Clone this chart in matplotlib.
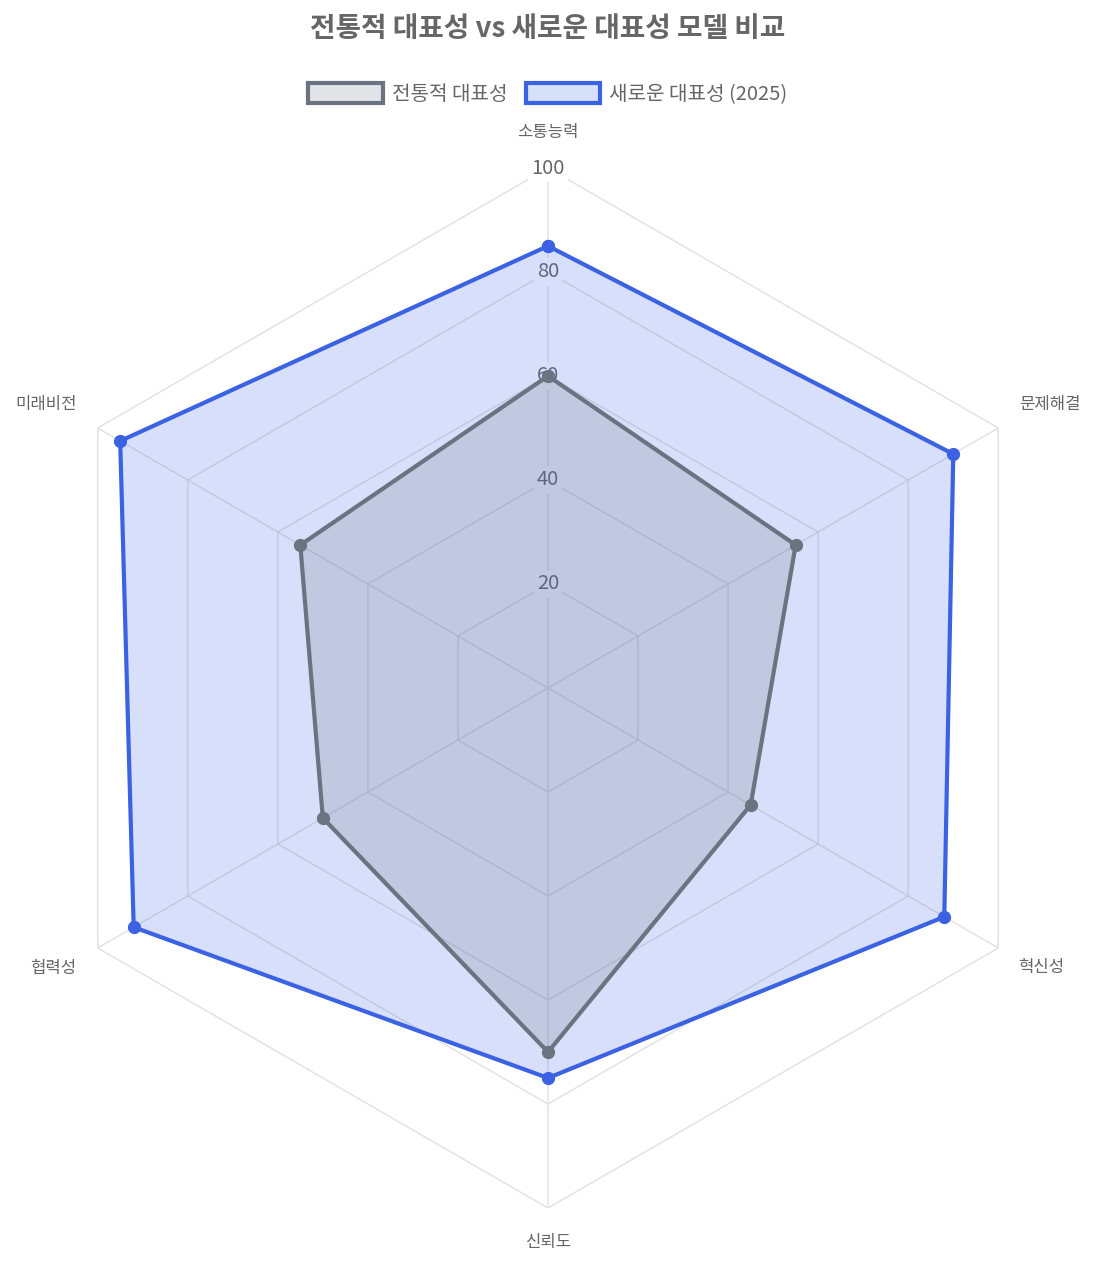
import numpy as np
import matplotlib
matplotlib.use("Agg")
import matplotlib.pyplot as plt
from matplotlib.patches import Patch

plt.rcParams['font.family'] = ['Noto Sans CJK KR', 'DejaVu Sans']

categories = ['소통능력', '문제해결', '혁신성', '신뢰도', '협력성', '미래비전']
traditional = [60, 55, 45, 70, 50, 55]
new_model = [85, 90, 88, 75, 92, 95]
series_names = ['전통적 대표성', '새로운 대표성 (2025)']
r_ticks = [20, 40, 60, 80, 100]
title = '전통적 대표성 vs 새로운 대표성 모델 비교'

W, H = 1104, 1262
fig = plt.figure(figsize=(W / 100, H / 100), dpi=100)
cx, cy, R = 548, 688, 520
ax = fig.add_axes([(cx - R) / W, (H - cy - R) / H, 2 * R / W, 2 * R / H], projection='polar')
ax.set_theta_offset(np.pi / 2)
ax.set_theta_direction(-1)
ax.set_ylim(0, 100)
ax.grid(False)
ax.spines['polar'].set_visible(False)
ax.set_xticks([])
ax.set_yticks([])
ax.patch.set_alpha(0)

n = len(categories)
theta = np.arange(n) * 2 * np.pi / n
theta_c = np.append(theta, theta[0])

grid_col = '#e3e3e3'
for t in r_ticks:
    ax.plot(theta_c, [t] * (n + 1), color=grid_col, lw=1.1, zorder=1)
for th in theta:
    ax.plot([th, th], [0, 100], color=grid_col, lw=1.1, zorder=1)

for t in r_ticks:
    ax.text(0, t, str(t), ha='center', va='center', fontsize=14.5, color='#666666',
            zorder=2, bbox=dict(boxstyle='square,pad=0.15', fc='white', ec='none'))

blue = '#3A62E2'
gray = '#6B7280'
blue_vals = np.append(new_model, new_model[0])
gray_vals = np.append(traditional, traditional[0])

ax.fill(theta_c, blue_vals, color=(59/255, 99/255, 230/255, 0.2), zorder=3, lw=0)
ax.plot(theta_c, blue_vals, color=blue, lw=3.0, zorder=4, marker='o', ms=8.5,
        solid_joinstyle='miter')
ax.fill(theta_c, gray_vals, color=(107/255, 114/255, 128/255, 0.2), zorder=5, lw=0)
ax.plot(theta_c, gray_vals, color=gray, lw=3.0, zorder=6, marker='o', ms=8.5,
        solid_joinstyle='miter')

offsets = [(0, 35, 'center'), (21, 23, 'left'), (20, -20, 'left'),
           (0, -35, 'center'), (-21, -20, 'right'), (-21, 23, 'right')]
for th, lab, (dx, dy, ha) in zip(theta, categories, offsets):
    ax.annotate(lab, xy=(th, 100), xytext=(dx, dy), textcoords='offset pixels',
                ha=ha, va='center', fontsize=12, color='#666666', annotation_clip=False)

fig.text(cx / W, 1 - 29 / H, title, ha='center', va='center', fontsize=20,
         fontweight='bold', color='#666666')

handles = [Patch(facecolor='#e2e3e6', edgecolor=gray, linewidth=3),
           Patch(facecolor='#d6e0f8', edgecolor=blue, linewidth=3)]
leg = fig.legend(handles, series_names, loc='center', bbox_to_anchor=(cx / W, 1 - 94 / H),
                 ncol=2, frameon=False, fontsize=14.5, handlelength=3.7, handleheight=1.15,
                 handletextpad=0.45, columnspacing=0.9, labelcolor='#666666')

fig.savefig('out.png', dpi=100)
